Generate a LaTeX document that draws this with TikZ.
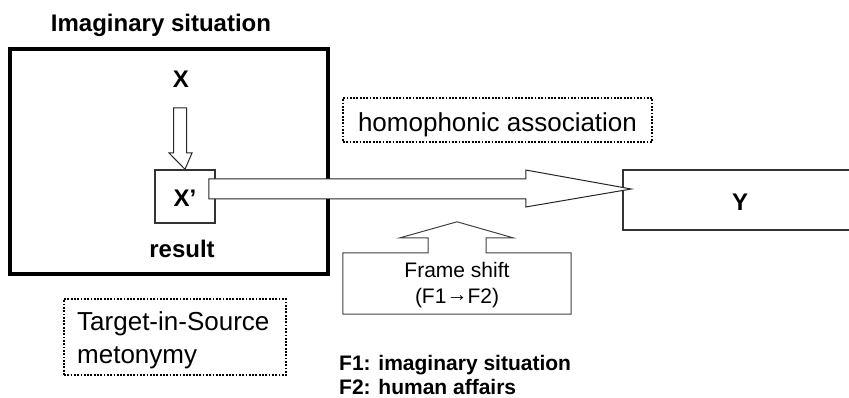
\documentclass[tikz,border=0pt]{standalone}
\usepackage{fontspec}
\setmainfont{Liberation Sans}
\usetikzlibrary{calc}
\begin{document}
\begin{tikzpicture}[x=1pt,y=-1pt,
  frame/.style={draw, line width=4pt, inner sep=0pt},
  plainbox/.style={draw=black!80, line width=1.5pt, inner sep=0pt},
  dotbox/.style={draw, line width=1.8pt, dash pattern=on 1.8pt off 1.5pt, inner sep=0pt},
  blockarrow/.style={draw=black!85, fill=white, line width=1pt, line join=miter},
  boldtext/.style={font=\fontsize{24}{28}\selectfont\bfseries, anchor=base, inner sep=0pt},
  plaintext/.style={font=\fontsize{26}{33}\selectfont, anchor=base, inner sep=0pt},
  smalltext/.style={font=\fontsize{21}{26}\selectfont, anchor=base, inner sep=0pt},
  legendtext/.style={font=\fontsize{21}{25}\selectfont\bfseries, anchor=base west, inner sep=0pt},
]
\useasboundingbox (0,0) rectangle (849,398);
\clip (0,0) rectangle (849,398);

% imaginary situation frame
\node[boldtext] (title) at (161,32) {Imaginary situation};
\node[frame, minimum width=318pt, minimum height=225pt] (imag) at (169,161.5) {};
\node[boldtext] (X) at (181,88) {X};
\node[plainbox, minimum width=60pt, minimum height=53pt] (Xp) at (185,196.5) {};
\node[boldtext] (Xptext) at (185,207) {X’};
\node[boldtext] (result) at (182,258) {result};

% hollow arrow X -> X'
\coordinate (dtop) at ($(X.base)+(-1,20)$);
\draw[blockarrow] ($(dtop)+(-6.5,0)$) -- ($(dtop)+(6.5,0)$) -- ($(dtop)+(6.5,45)$)
  -- ($(dtop)+(12,45)$) -- (Xp.north) -- ($(dtop)+(-11,45)$) -- ($(dtop)+(-6.5,45)$) -- cycle;

% target box Y (runs past the right border)
\node[plainbox, line width=1.4pt, minimum width=250pt, minimum height=60pt] (Y) at (748,200) {};
\node[boldtext] (Ytext) at (740,211) {Y};

% wide hollow arrow X' -> Y
\coordinate (bstart) at ($(Xp.east)+(-7,-7.5)$);
\coordinate (btip) at ($(Y.west)+(9,-11)$);
\draw[blockarrow] ($(bstart)+(0,-10)$) -- ($(bstart)+(317,-10)$) -- ($(bstart)+(317,-19)$)
  -- (btip) -- ($(bstart)+(317,18)$) -- ($(bstart)+(317,10)$) -- ($(bstart)+(0,10)$) -- cycle;

% homophonic association label
\node[dotbox, minimum width=309pt, minimum height=44pt] (homo) at (497.5,120) {};
\node[plaintext] (homotext) at (497.5,132) {homophonic association};

% frame shift box with upward hollow arrow
\node[inner sep=0pt, minimum width=228pt, minimum height=61pt] (shift) at (457,283.5) {};
\draw[draw=black!75, fill=white, line width=1pt, line join=miter]
  (shift.north west) -- ($(shift.north)+(-29,0)$) -- ($(shift.north)+(-29,-15)$)
  -- ($(shift.north)+(-57,-15)$) -- ($(shift.north)+(0,-31)$) -- ($(shift.north)+(56,-15)$)
  -- ($(shift.north)+(29,-15)$) -- ($(shift.north)+(29,0)$) -- (shift.north east)
  -- (shift.south east) -- (shift.south west) -- cycle;
\node[smalltext] (shift1) at (457,277) {Frame shift};
\node[smalltext] (shift2) at (457,303) {(F1\raisebox{1.5pt}{\fontsize{21}{24}\selectfont →}F2)};

% metonymy label
\node[dotbox, minimum width=222pt, minimum height=76pt] (meto) at (175,337) {};
\node[plaintext, anchor=base west] (meto1) at (77,330) {Target-in-Source};
\node[plaintext, anchor=base west] (meto2) at (77,363) {metonymy};

% legend
\node[legendtext] (leg1) at (339,370) {F1: imaginary situation};
\node[legendtext] (leg2) at (339,394) {F2: human affairs};
\end{tikzpicture}
\end{document}
